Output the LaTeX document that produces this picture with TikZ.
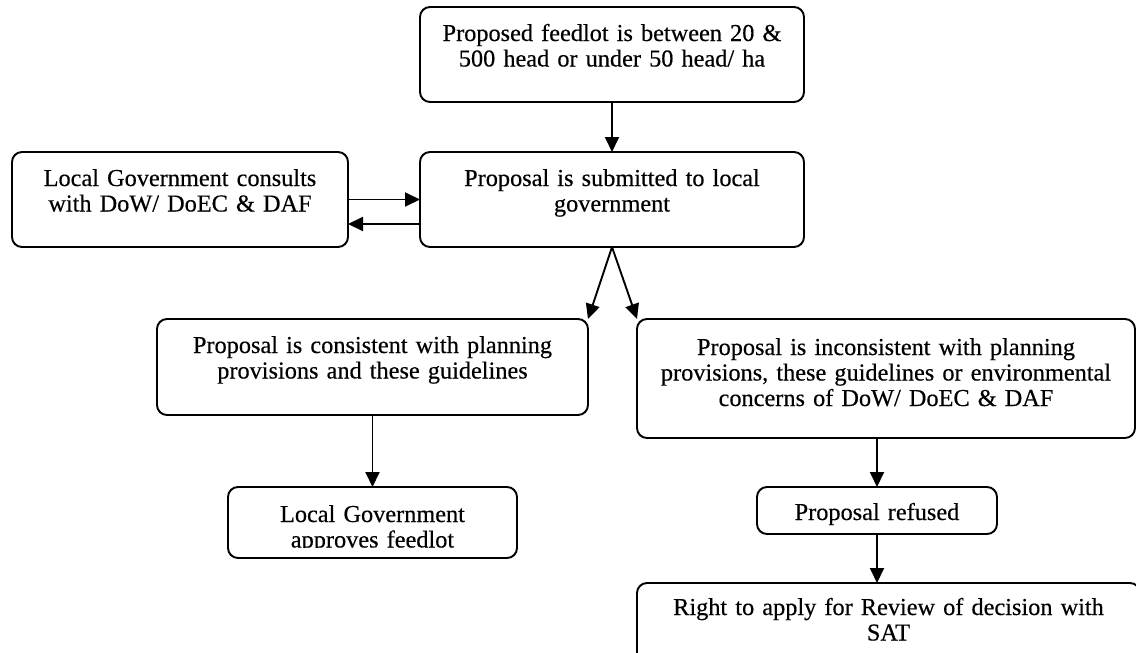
\documentclass[tikz,border=0pt]{standalone}
\usepackage{fontspec}
\setmainfont{Liberation Serif}[UprightFeatures={FakeBold=0.4}]
\usetikzlibrary{arrows.meta}
\tikzset{
  box/.style={draw=black, line width=1.9pt, rounded corners=10pt, inner sep=0pt, outer sep=0pt, fill=none},
  txt/.style={anchor=base, align=center, inner sep=0pt, text width=#1, font=\fontsize{24.3}{25.5}\selectfont},
  arr/.style={draw=black, line width=1.9pt, -{Triangle[length=15pt,width=14pt]}}
}
\begin{document}
\begin{tikzpicture}[x=1pt,y=-1pt]
\useasboundingbox (0,0) rectangle (1136,653);
\clip (0,0) rectangle (1136,653);
\fill[white] (0,0) rectangle (1136,653);
% boxes
\node[box, minimum width=384pt, minimum height=95pt] (A) at (612,54.5) {};
\node[box, minimum width=384pt, minimum height=95pt] (B) at (612,199.5) {};
\node[box, minimum width=336pt, minimum height=95pt] (C) at (180,199.5) {};
\node[box, minimum width=431pt, minimum height=96pt] (D) at (372.5,367) {};
\node[box, minimum width=498pt, minimum height=119pt] (E) at (886,378.5) {};
\node[box, minimum width=289pt, minimum height=71pt] (F) at (372.5,522.5) {};
\node[box, minimum width=240pt, minimum height=47pt] (G) at (877,510.5) {};
\node[box, minimum width=503pt, minimum height=87pt] (H) at (888.5,626.5) {};
% texts
\node[txt=380pt] (tA) at (612,41) {Proposed feedlot is between 20 \&\\500 head or under 50 head/ ha};
\node[txt=380pt] (tB) at (612,186) {Proposal is submitted to local\\government};
\node[txt=330pt] (tC) at (180,186) {Local Government consults\\with DoW/ DoEC \& DAF};
\node[txt=425pt] (tD) at (372.5,353) {Proposal is consistent with planning\\provisions and these guidelines};
\node[txt=495pt] (tE) at (886,355) {Proposal is inconsistent with planning\\provisions, these guidelines or environmental\\concerns of DoW/ DoEC \& DAF};
\begin{scope}
\clip (229,488) rectangle (517,547);
\node[txt=285pt] (tF) at (372.5,522) {Local Government\\approves feedlot};
\end{scope}
\node[txt=235pt] (tG) at (877,520) {Proposal refused};
\node[txt=500pt] (tH) at (888.5,615) {Right to apply for Review of decision with\\SAT};
% connectors
\draw[arr] (A.south) -- (B.north);
\draw[arr] (C.east) -- (C.east -| B.west);
\draw[arr] ([yshift=-24.5pt]C.east -| B.west) -- ([yshift=-24.5pt]C.east);
\draw[arr] (B.south) -- (D.north east);
\draw[arr] (B.south) -- (E.north west);
\draw[arr] (D.south) -- (F.north);
\draw[arr] (G.north |- E.south) -- (G.north);
\draw[arr] (G.south) -- (G.south |- H.north);
\end{tikzpicture}
\end{document}
